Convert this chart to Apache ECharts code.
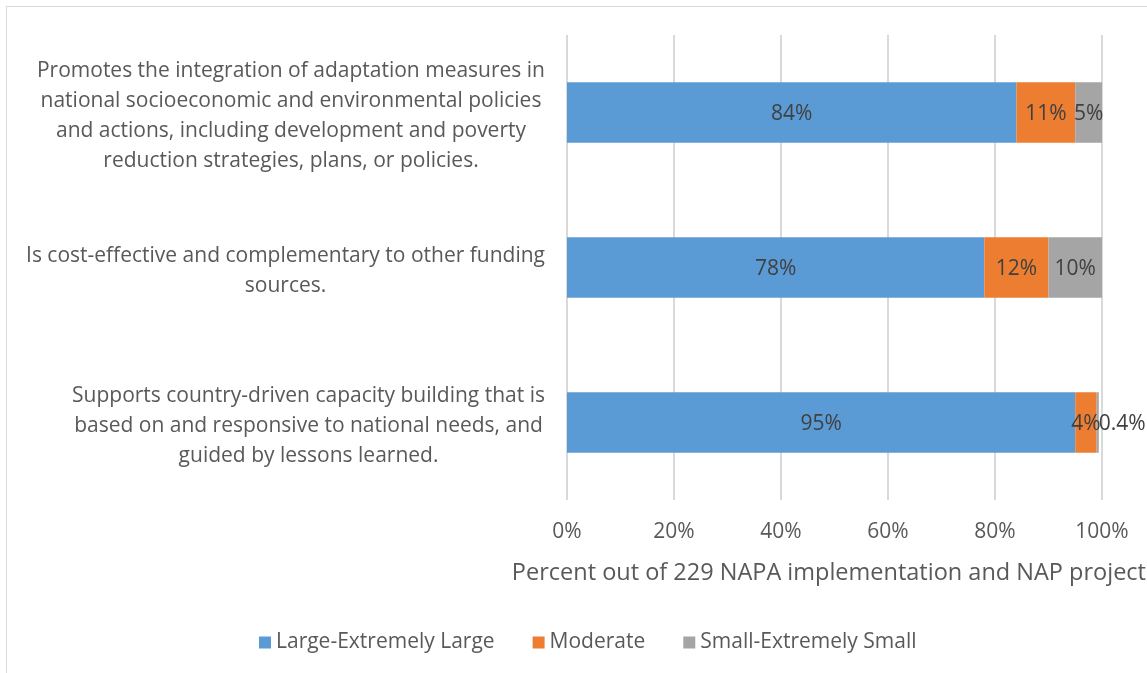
<!DOCTYPE html>
<html>
<head>
<meta charset="utf-8">
<style>
  html, body { margin: 0; padding: 0; background: #ffffff; }
  #frame { position: absolute; left: 6px; top: 6px; width: 1200px; height: 700px; border: 1px solid #d9d9d9; box-sizing: border-box; }
  #chart { position: absolute; left: 0; top: 0; width: 1147px; height: 673px; }
</style>
<script src="https://cdn.jsdelivr.net/npm/echarts@6/dist/echarts.min.js"></script>
</head>
<body>
<div id="frame"></div>
<div id="chart"></div>
<script>
// Project characteristics rated by how well they are met
const categories = [
  'Promotes the integration of adaptation measures in\nnational socioeconomic and environmental policies\nand actions, including development and poverty\nreduction strategies, plans, or policies.',
  'Is cost-effective and complementary to other funding\nsources.',
  'Supports country-driven capacity building that is\nbased on and responsive to national needs, and\nguided by lessons learned.'
];
const seriesNames = ['Large-Extremely Large', 'Moderate', 'Small-Extremely Small'];
const largeValues = [84, 78, 95];
const moderateValues = [11, 12, 4];
const smallValues = [5, 10, 0.4];
const xTicks = [0, 20, 40, 60, 80, 100];
const colors = ['#5B9BD5', '#ED7D31', '#A5A5A5'];

const FONT = '"Open Sans", sans-serif';
const TEXT = '#595959';

const chart = echarts.init(document.getElementById('chart'), null, { renderer: 'canvas' });

const labelBase = {
  show: true,
  position: 'inside',
  offset: [0, 2],
  color: '#404040',
  fontFamily: FONT,
  fontSize: 21,
  formatter: p => p.value + '%'
};

function makeSeries(name, values, idx) {
  return {
    name: name,
    type: 'bar',
    stack: 'total',
    barWidth: '39%',
    itemStyle: { color: colors[idx] },
    label: labelBase,
    emphasis: { disabled: true },
    data: values.map(v => {
      // the thin last segment carries its label just past the bar end
      if (idx === 2 && v < 1) {
        return { value: v, label: { position: 'right', distance: 0 } };
      }
      return v;
    })
  };
}

chart.setOption({
  animation: false,
  textStyle: { fontFamily: FONT },
  grid: { left: 567, right: 45, top: 35, bottom: 173, containLabel: false, outerBoundsMode: 'none' },
  legend: {
    data: seriesNames,
    left: 254,
    top: 627,
    itemWidth: 12,
    itemHeight: 12,
    itemGap: 38,
    icon: 'rect',
    textStyle: { color: TEXT, fontFamily: FONT, fontSize: 21 }
  },
  xAxis: {
    type: 'value',
    min: 0,
    max: 100,
    interval: 20,
    axisLine: { show: false },
    axisTick: { show: false },
    splitLine: { show: true, lineStyle: { color: '#d9d9d9', width: 2 } },
    axisLabel: {
      color: TEXT,
      fontFamily: FONT,
      fontSize: 21,
      margin: 22,
      formatter: v => (xTicks.indexOf(v) >= 0 ? v + '%' : '')
    },
    name: 'Percent out of 229 NAPA implementation and NAP projects',
    nameLocation: 'middle',
    nameGap: 61,
    nameTextStyle: { color: TEXT, fontFamily: FONT, fontSize: 23.5 }
  },
  yAxis: {
    type: 'category',
    inverse: true,
    data: categories,
    axisLine: { show: false },
    axisTick: { show: false },
    axisLabel: {
      margin: 22,
      align: 'right',
      padding: [7, 0, 0, 0],
      formatter: v => v.split('\n').map(s => '{c|' + s + '}').join('\n'),
      rich: {
        c: { align: 'center', color: TEXT, fontFamily: FONT, fontSize: 21, lineHeight: 30 }
      }
    }
  },
  series: [
    makeSeries(seriesNames[0], largeValues, 0),
    makeSeries(seriesNames[1], moderateValues, 1),
    makeSeries(seriesNames[2], smallValues, 2)
  ]
});
</script>
</body>
</html>
